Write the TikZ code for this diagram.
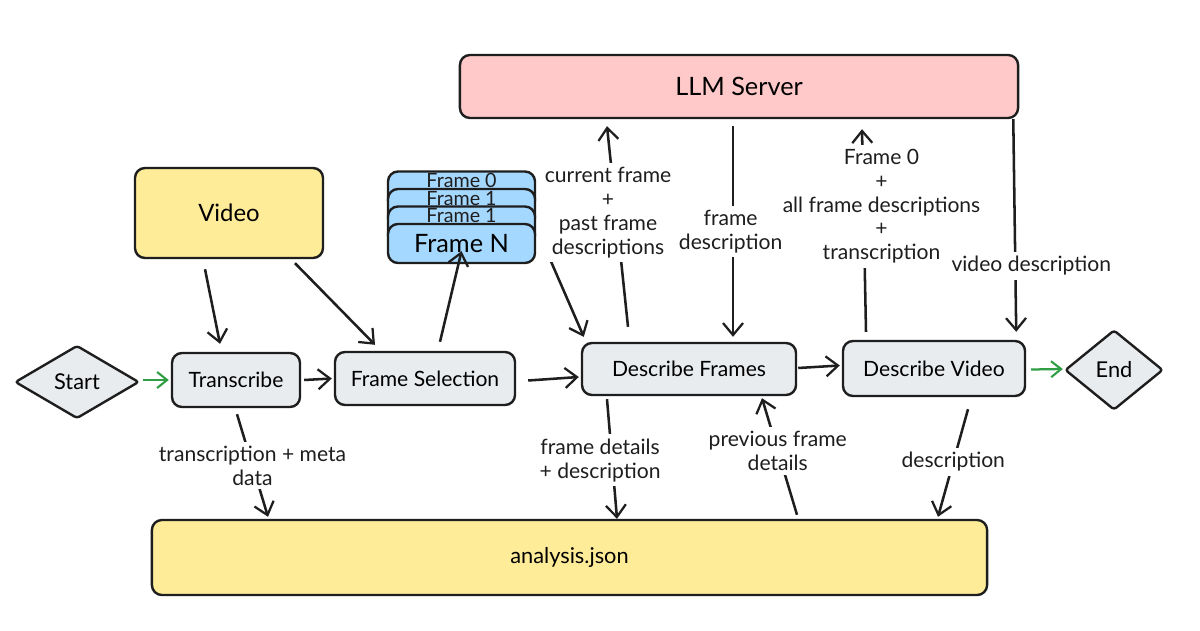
\documentclass[tikz,border=0pt]{standalone}
\usepackage{fontspec}
\setmainfont{Lato}
\usetikzlibrary{shapes.geometric,arrows.meta,calc}
\definecolor{pinkF}{HTML}{FFC9C9}
\definecolor{yellowF}{HTML}{FFEC99}
\definecolor{blueF}{HTML}{A5D8FF}
\definecolor{grayF}{HTML}{E9ECEF}
\definecolor{greenA}{HTML}{2F9E44}
\definecolor{ink}{HTML}{1E1E1E}
\tikzset{
  box/.style={draw=ink, line width=1.7pt, rounded corners=0.25cm, align=center, inner sep=0pt},
  proc/.style={box, fill=grayF, font=\fontsize{15}{18}\selectfont},
  frm/.style={box, fill=blueF, minimum width=3.675cm, minimum height=0.975cm, font=\fontsize{18}{21}\selectfont},
  frmtxt/.style={anchor=north, inner sep=0pt, text depth=0pt, font=\fontsize{14}{17}\selectfont, text=ink},
  dia/.style={draw=ink, line width=1.7pt, fill=grayF, shape=diamond, inner sep=0pt, rounded corners=2pt, font=\fontsize{15.5}{18}\selectfont},
  arr/.style={draw=ink, line width=1.8pt, -{Straight Barb[length=0.3cm,width=0.5cm,line width=1.6pt]}},
  garr/.style={draw=greenA, line width=1.6pt, -{Straight Barb[length=0.25cm,width=0.4cm,line width=1.5pt]}},
  lbl/.style={fill=white, align=center, inner xsep=1pt, inner ysep=3pt, font=\fontsize{15}{17}\selectfont, text=ink},
}
\begin{document}
\begin{tikzpicture}[x=0.025cm, y=-0.025cm]
\path[use as bounding box, fill=white] (0,0) rectangle (1200,630);

% main nodes
\node[box, fill=pinkF, minimum width=13.95cm, minimum height=1.575cm, font=\fontsize{18}{21}\selectfont] (llm) at (739,86.5) {LLM Server};
\node[box, fill=yellowF, minimum width=4.7cm, minimum height=2.25cm, font=\fontsize{17}{20}\selectfont] (video) at (229,213) {Video};

\node[frm] (f0) at (461.5,191) {};
\node[frmtxt] (t0) at ($(f0.north)+(0,3)$) {Frame 0};
\node[frm] (f1) at (461.5,208.5) {};
\node[frmtxt] (t1) at ($(f1.north)+(0,3)$) {Frame 1};
\node[frm] (f2) at (461.5,226) {};
\node[frmtxt] (t2) at ($(f2.north)+(0,3)$) {Frame 1};
\node[frm] (fN) at (461.5,243.5) {Frame N};

\node[dia, minimum width=3.1cm, minimum height=1.825cm] (start) at (77,382) {Start};
\node[proc, minimum width=3.2cm, minimum height=1.35cm] (tr) at (236,380) {Transcribe};
\node[proc, minimum width=4.5cm, minimum height=1.325cm] (fsel) at (425,378.5) {Frame Selection};
\node[proc, minimum width=5.35cm, minimum height=1.3cm] (df) at (689,369) {Describe Frames};
\node[proc, minimum width=4.55cm, minimum height=1.375cm] (dv) at (934,368.5) {Describe Video};
\node[dia, minimum width=2.45cm, minimum height=2cm] (end) at (1114,370) {End};

\node[box, fill=yellowF, minimum width=20.875cm, minimum height=1.875cm, font=\fontsize{15.5}{18}\selectfont] (an) at (569.5,557.5) {analysis.json};

% main flow
\draw[garr] ($(start.east)+(3,-2)$) -- ($(tr.west)+(-2,0)$);
\draw[arr] ($(tr.east)+(3,0)$) -- ($(fsel.west)+(-2,0)$);
\draw[arr] ($(fsel.east)+(12,2)$) -- ($(df.west)+(-2,8)$);
\draw[arr] ($(df.east)+(1,-1)$) -- ($(dv.west)+(-2,-3)$);
\draw[garr] ($(dv.east)+(5,1)$) -- ($(end.west)+(-1,-1)$);

% video & frames
\draw[arr] ($(video.south)+(-24,10)$) -- ($(tr.north)+(-16,-8)$);
\draw[arr] ($(video.south)+(66,4)$) -- ($(fsel.north)+(-50,-6)$);
\draw[arr] ($(fsel.north)+(15,-9)$) -- ($(fN.south)+(0,-13)$);
\draw[arr] ($(fN.east)+(10,7)$) -- ($(df.north west)+(3,-5)$);

% LLM exchanges
\draw[arr] ($(df.north)+(-61,-15)$) -- node[lbl, pos=0.57, xshift=-0.2cm] {current frame\\+\\past frame\\descriptions} ($(llm.south)+(-132,7)$);
\draw[arr] ($(llm.south)+(-6,7)$) -- node[lbl, pos=0.5, xshift=-0.06cm] {frame\\description} ($(df.north)+(44,-5)$);
\draw[arr] ($(dv.north)+(-68,-8)$) -- node[lbl, pos=0.62, xshift=0.45cm] {Frame 0\\+\\all frame descriptions\\+\\transcription} ($(llm.south)+(123,10)$);
\draw[arr] ($(llm.south east)+(-6,0)$) -- node[lbl, pos=0.69, xshift=0.4cm] {video description} ($(dv.north east)+(-10,-8)$);

% analysis exchanges
\draw[arr] ($(tr.south)+(1,6)$) -- node[lbl, pos=0.5] {transcription + meta\\data} ($(an.north)+(-301.5,-2)$);
\draw[arr] ($(df.south)+(-82,3)$) -- node[lbl, pos=0.51, xshift=-0.3cm] {frame details\\+ description} ($(an.north)+(47.5,0)$);
\draw[arr] ($(an.north)+(227.5,-4)$) -- node[lbl, pos=0.55] {previous frame\\details} ($(df.south)+(73,2)$);
\draw[arr] ($(dv.south)+(34,12)$) -- node[lbl, pos=0.49] {description} ($(an.north)+(368.5,-2)$);
\end{tikzpicture}
\end{document}
